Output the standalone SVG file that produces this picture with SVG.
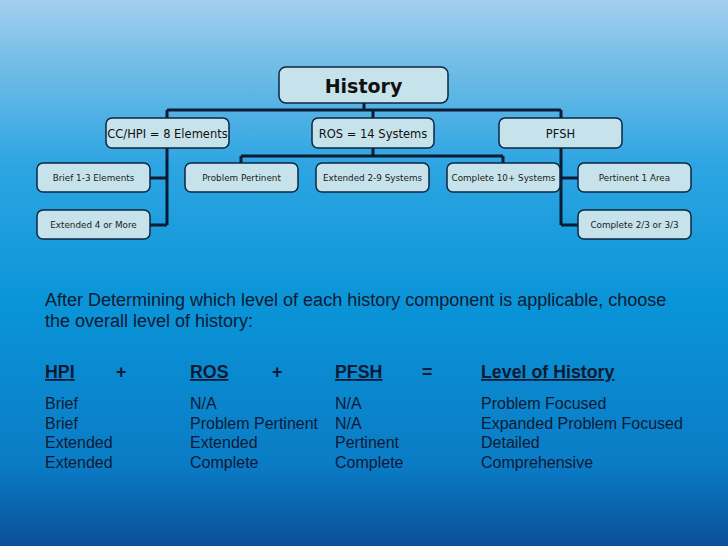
<svg xmlns="http://www.w3.org/2000/svg" width="728" height="546" viewBox="0 0 728 546">
<defs>
<linearGradient id="bg" x1="0" y1="0" x2="0" y2="1">
<stop offset="0" stop-color="#a4cef0"/>
<stop offset="0.11" stop-color="#76bee7"/>
<stop offset="0.3" stop-color="#2ea5e2"/>
<stop offset="0.55" stop-color="#0a95d8"/>
<stop offset="0.85" stop-color="#0a7cc6"/>
<stop offset="1" stop-color="#0b4f97"/>
</linearGradient>
<style>
.box{fill:#c6e3ec;stroke:#0b2640;stroke-width:1.5}
.t2{font-family:"DejaVu Sans",Verdana,sans-serif;font-size:11.5px;fill:#111;text-anchor:middle}
.t3{font-family:"DejaVu Sans",Verdana,sans-serif;font-size:8.8px;fill:#1a1a1a;text-anchor:middle}
.conn{stroke:#0a1c34;stroke-width:3;fill:none}
.p{font-family:"Liberation Sans",Arial,sans-serif;font-size:16px;fill:#0c1a33}
.q{font-family:"Liberation Sans",Arial,sans-serif;font-size:18px;fill:#0c1a33}
.h{font-family:"Liberation Sans",Arial,sans-serif;font-size:17.8px;font-weight:bold;fill:#0c1a33}
</style>
</defs>
<rect x="0" y="0" width="728" height="546" fill="url(#bg)"/>
<g id="connectors">
<path class="conn" d="M364 103V110M167 110H561M167 110V118M373 110V118M561 110V118"/>
<path class="conn" d="M167 148V225M150 178H167M150 225H167"/>
<path class="conn" d="M373 148V156M241 156H503M241 156V163M503 156V163"/>
<path class="conn" d="M561 148V225M561 178H578M561 225H578"/>
</g>
<g id="history">
<rect class="box" x="279" y="67" width="169" height="36" rx="7"/>
<text x="363.5" y="93" font-family="DejaVu Sans,Verdana,sans-serif" font-size="19" font-weight="bold" fill="#111" text-anchor="middle">History</text>
</g>
<g id="cchpi">
<rect class="box" x="106" y="118" width="123" height="30" rx="6"/>
<text class="t2" x="167.5" y="137.5">CC/HPI = 8 Elements</text>
</g>
<g id="ros">
<rect class="box" x="312" y="118" width="122" height="30" rx="6"/>
<text class="t2" x="373" y="137.5">ROS = 14 Systems</text>
</g>
<g id="pfsh">
<rect class="box" x="499" y="118" width="123" height="30" rx="6"/>
<text class="t2" x="560.5" y="137.5">PFSH</text>
</g>
<g id="brief">
<rect class="box" x="37" y="163" width="113" height="29" rx="6"/>
<text class="t3" x="93.5" y="181">Brief 1-3 Elements</text>
</g>
<g id="extended4">
<rect class="box" x="37" y="210" width="113" height="29" rx="6"/>
<text class="t3" x="93.5" y="228">Extended 4 or More</text>
</g>
<g id="problem">
<rect class="box" x="185" y="163" width="113" height="29" rx="6"/>
<text class="t3" x="241.5" y="181">Problem Pertinent</text>
</g>
<g id="extended29">
<rect class="box" x="316" y="163" width="113" height="29" rx="6"/>
<text class="t3" x="372.5" y="181">Extended 2-9 Systems</text>
</g>
<g id="complete10">
<rect class="box" x="447" y="163" width="113" height="29" rx="6"/>
<text class="t3" x="503.5" y="181">Complete 10+ Systems</text>
</g>
<g id="pertinent1">
<rect class="box" x="578" y="163" width="113" height="29" rx="6"/>
<text class="t3" x="634.5" y="181">Pertinent 1 Area</text>
</g>
<g id="complete23">
<rect class="box" x="578" y="210" width="113" height="29" rx="6"/>
<text class="t3" x="634.5" y="228">Complete 2/3 or 3/3</text>
</g>
<g id="summary">
<text class="q" x="45" y="306">After Determining which level of each history component is applicable, choose</text>
<text class="q" x="45" y="327">the overall level of history:</text>
<text class="h" x="45" y="378" text-decoration="underline">HPI</text>
<text class="h" x="116" y="378">+</text>
<text class="h" x="190" y="378" text-decoration="underline">ROS</text>
<text class="h" x="272" y="378">+</text>
<text class="h" x="335" y="378" text-decoration="underline">PFSH</text>
<text class="h" x="422" y="378">=</text>
<text class="h" x="481" y="378" text-decoration="underline">Level of History</text>
<text class="p" x="45" y="409">Brief</text>
<text class="p" x="45" y="428.5">Brief</text>
<text class="p" x="45" y="448">Extended</text>
<text class="p" x="45" y="467.5">Extended</text>
<text class="p" x="190" y="409">N/A</text>
<text class="p" x="190" y="428.5">Problem Pertinent</text>
<text class="p" x="190" y="448">Extended</text>
<text class="p" x="190" y="467.5">Complete</text>
<text class="p" x="335" y="409">N/A</text>
<text class="p" x="335" y="428.5">N/A</text>
<text class="p" x="335" y="448">Pertinent</text>
<text class="p" x="335" y="467.5">Complete</text>
<text class="p" x="481" y="409">Problem Focused</text>
<text class="p" x="481" y="428.5">Expanded Problem Focused</text>
<text class="p" x="481" y="448">Detailed</text>
<text class="p" x="481" y="467.5">Comprehensive</text>
</g>
</svg>
